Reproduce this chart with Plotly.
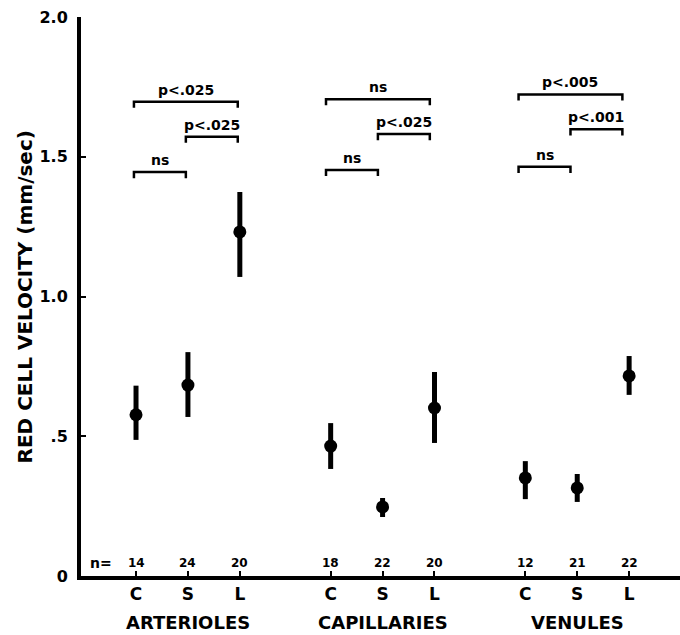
import plotly.graph_objects as go

# ---- data ----
groups = ["ARTERIOLES", "CAPILLARIES", "VENULES"]
conditions = ["C", "S", "L"]
n_values = [[14, 24, 20], [18, 22, 20], [12, 21, 22]]
means = [[0.577, 0.683, 1.231], [0.465, 0.247, 0.601], [0.351, 0.315, 0.716]]
err_plus = [[0.104, 0.118, 0.143], [0.082, 0.032, 0.129], [0.060, 0.050, 0.071]]
err_minus = [[0.090, 0.114, 0.161], [0.082, 0.036, 0.125], [0.076, 0.050, 0.068]]

# significance brackets: (group index, from condition, to condition, height, label)
brackets = [
    (0, 0, 2, 1.697, "p<.025"), (0, 1, 2, 1.572, "p<.025"), (0, 0, 1, 1.445, "ns"),
    (1, 0, 2, 1.706, "ns"), (1, 1, 2, 1.581, "p<.025"), (1, 0, 1, 1.453, "ns"),
    (2, 0, 2, 1.723, "p<.005"), (2, 1, 2, 1.598, "p<.001"), (2, 0, 1, 1.464, "ns"),
]

y_tickvals = [0, 0.5, 1.0, 1.5, 2.0]
y_ticktext = ["0", ".5", "1.0", "1.5", "2.0"]
y_title = "RED CELL VELOCITY (mm/sec)"

# ---- layout helpers ----
GROUP_STEP = 3.75
bracket_dx = [-0.04, -0.09, -0.13]
FONT = "DejaVu Sans"
BLACK = "black"


def xpos(g, c):
    return g * GROUP_STEP + c


xs, ys, ep, em, ticks_x, ticks_t = [], [], [], [], [], []
for g in range(len(groups)):
    for c in range(len(conditions)):
        xs.append(xpos(g, c))
        ys.append(means[g][c])
        ep.append(err_plus[g][c])
        em.append(err_minus[g][c])
        ticks_x.append(xpos(g, c))
        ticks_t.append(conditions[c])

fig = go.Figure()
fig.add_trace(go.Scatter(
    x=xs, y=ys, mode="markers",
    marker=dict(color=BLACK, size=13, symbol="circle"),
    error_y=dict(type="data", symmetric=False, array=ep, arrayminus=em,
                 color=BLACK, thickness=5, width=0),
    showlegend=False, hoverinfo="skip",
))

shapes = []
annotations = []
LEG = 0.022
for g, a, b, h, lab in brackets:
    x0 = xpos(g, a) + bracket_dx[g]
    x1 = xpos(g, b) + bracket_dx[g]
    shapes.append(dict(
        type="path", xref="x", yref="y",
        path=f"M {x0},{h - LEG} L {x0},{h} L {x1},{h} L {x1},{h - LEG}",
        line=dict(color=BLACK, width=2.5),
    ))
    annotations.append(dict(
        x=(x0 + x1) / 2, y=h, xref="x", yref="y", text=f"<b>{lab}</b>",
        showarrow=False, yanchor="bottom", yshift=2,
        font=dict(family=FONT, size=14, color=BLACK),
    ))

# n labels
annotations.append(dict(
    x=-0.67, y=0.047, xref="x", yref="y", text="<b>n=</b>", showarrow=False,
    font=dict(family=FONT, size=14, color=BLACK), yanchor="middle",
))
for g in range(len(groups)):
    for c in range(len(conditions)):
        annotations.append(dict(
            x=xpos(g, c), y=0.047, xref="x", yref="y",
            text=f"<b>{n_values[g][c]}</b>", showarrow=False, yanchor="middle",
            font=dict(family=FONT, size=12, color=BLACK),
        ))
    # group label
    annotations.append(dict(
        x=xpos(g, 1), y=-0.084, xref="x", yref="paper", text=f"<b>{groups[g]}</b>",
        showarrow=False, yanchor="middle",
        font=dict(family=FONT, size=18, color=BLACK),
    ))

# y-axis title
annotations.append(dict(
    x=-0.0935, y=1.0, xref="paper", yref="y", text=f"<b>{y_title}</b>",
    textangle=-90, showarrow=False, xanchor="center", yanchor="middle",
    font=dict(family=FONT, size=20, color=BLACK),
))

fig.update_layout(
    width=680, height=635,
    margin=dict(l=81, r=0, t=17, b=59, autoexpand=False),
    paper_bgcolor="white", plot_bgcolor="white",
    shapes=shapes, annotations=annotations,
    xaxis=dict(
        range=[-1.06, 10.48], showgrid=False, zeroline=False, automargin=False,
        showline=True, linecolor=BLACK, linewidth=3.5,
        tickmode="array", tickvals=ticks_x, ticktext=[f"<b>{t}</b>" for t in ticks_t],
        ticks="inside", ticklen=5, tickwidth=2, tickcolor=BLACK,
        tickfont=dict(family=FONT, size=17, color=BLACK),
    ),
    yaxis=dict(
        range=[0, 2.0], showgrid=False, zeroline=False, automargin=False,
        showline=True, linecolor=BLACK, linewidth=4,
        tickmode="array", tickvals=y_tickvals, ticktext=[f"<b>{t}</b>" for t in y_ticktext],
        ticks="inside", ticklen=5, tickwidth=2, tickcolor=BLACK,
        ticklabelstandoff=6, ticklabeloverflow="allow",
        tickfont=dict(family=FONT, size=16, color=BLACK),
    ),
)

fig.write_html(
    "out.html",
    config={"displayModeBar": False, "staticPlot": True},
    post_script="document.body.style.margin='0';document.body.style.overflow='hidden';",
)
